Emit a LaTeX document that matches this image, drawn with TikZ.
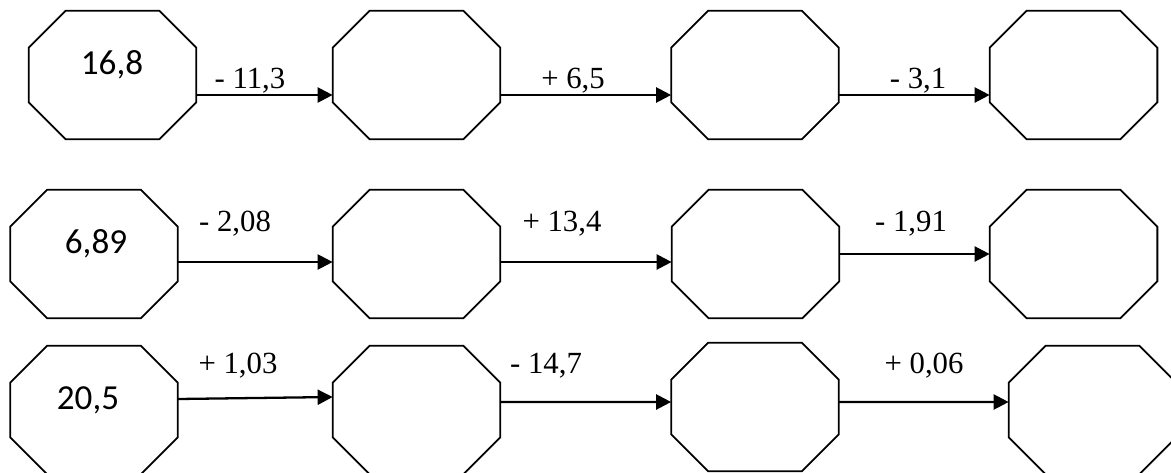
\documentclass[tikz,border=0pt]{standalone}
\usepackage{fontspec}
\setmainfont{Liberation Serif}
\newfontfamily\calibri{Carlito}
\usetikzlibrary{arrows.meta}

\begin{document}
\begin{tikzpicture}[
    octo/.style={minimum width=3.34cm, minimum height=2.56cm, inner sep=0pt},
    rim/.style={draw=black, line width=1pt, line join=miter},
    arrow/.style={draw=black, line width=1.3pt, -{Triangle[length=0.3cm, width=0.3cm]}},
    val/.style={anchor=base, font=\calibri\fontsize{20}{24}\selectfont},
    op/.style={anchor=base, font=\fontsize{17.5}{21}\selectfont},
]
\useasboundingbox (0,0) rectangle (23.42,-9.44);

% Fila 1
\node[octo] (a1) at (2.25,-1.5) {};
\node[octo] (a2) at (8.33,-1.5) {};
\node[octo] (a3) at (15.1,-1.5) {};
\node[octo] (a4) at (21.47,-1.5) {};

% Fila 2
\node[octo] (b1) at (1.88,-5.08) {};
\node[octo] (b2) at (8.33,-5.08) {};
\node[octo] (b3) at (15.11,-5.08) {};
\node[octo] (b4) at (21.47,-5.08) {};

% Fila 3
\node[octo] (c1) at (1.88,-8.2) {};
\node[octo] (c2) at (8.33,-8.2) {};
\node[octo] (c3) at (15.1,-8.14) {};
\node[octo] (c4) at (21.85,-8.2) {};

% Octogonos
\foreach \n in {a1,a2,a3,a4,b1,b2,b3,b4,c1,c2,c3,c4} {
  \draw[rim] ([xshift=0.74cm]\n.north west) -- ([xshift=-0.74cm]\n.north east)
    -- ([yshift=-0.74cm]\n.north east) -- ([yshift=0.74cm]\n.south east)
    -- ([xshift=-0.74cm]\n.south east) -- ([xshift=0.74cm]\n.south west)
    -- ([yshift=0.74cm]\n.south west) -- ([yshift=-0.74cm]\n.north west) -- cycle;
}

% Valores iniciales
\node[val] (v1) at (2.24,-1.48) {16,8};
\node[val] (v2) at (1.92,-5.06) {6,89};
\node[val] (v3) at (1.76,-8.18) {20,5};

% Flechas
\draw[arrow] ([yshift=-0.4cm]a1.east) -- ([yshift=-0.4cm]a2.west);
\draw[arrow] ([yshift=-0.4cm]a2.east) -- ([yshift=-0.4cm]a3.west);
\draw[arrow] ([yshift=-0.4cm]a3.east) -- ([yshift=-0.4cm]a4.west);

\draw[arrow] ([yshift=-0.16cm]b1.east) -- ([yshift=-0.16cm]b2.west);
\draw[arrow] ([yshift=-0.16cm]b2.east) -- ([yshift=-0.16cm]b3.west);
\draw[arrow] (b3.east) -- (b4.west);

\draw[arrow] ([yshift=0.22cm]c1.east) -- ([yshift=0.26cm]c2.west);
\draw[arrow] ([yshift=0.16cm]c2.east) -- ([yshift=0.1cm]c3.west);
\draw[arrow] ([yshift=0.1cm]c3.east) -- ([yshift=0.16cm]c4.west);

% Operaciones
\node[op] (o1) at (5.0,-1.76) {- 11,3};
\node[op] (o2) at (11.46,-1.76) {+ 6,5};
\node[op] (o3) at (18.36,-1.76) {- 3,1};

\node[op] (o4) at (4.7,-4.63) {- 2,08};
\node[op] (o5) at (11.24,-4.63) {+ 13,4};
\node[op] (o6) at (18.22,-4.63) {- 1,91};

\node[op] (o7) at (4.76,-7.46) {+ 1,03};
\node[op] (o8) at (10.92,-7.46) {- 14,7};
\node[op] (o9) at (18.48,-7.46) {+ 0,06};

\end{tikzpicture}
\end{document}
